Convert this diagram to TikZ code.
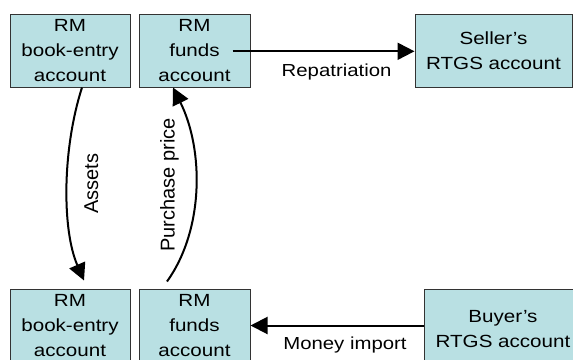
\documentclass[tikz,border=0pt]{standalone}
\usepackage{fontspec}
\setmainfont{Liberation Sans}
\newfontfamily\hfont{Liberation Sans}[FakeStretch=1.17]
\usetikzlibrary{arrows.meta}
\definecolor{boxfill}{RGB}{185,224,227}
\definecolor{boxline}{RGB}{51,51,51}
\begin{document}
\begin{tikzpicture}[x=1pt,y=-1pt,
  acct/.style={draw=boxline, line width=1pt, fill=boxfill, align=center, inner sep=0pt,
    minimum height=73pt, font=\hfont\fontsize{17.6}{25}\selectfont},
  arr/.style={line width=2pt, -{Triangle[length=17pt,width=17pt]}},
  lab/.style={font=\hfont\fontsize{17.4}{25}\selectfont, inner sep=0pt},
  vlab/.style={font=\fontsize{20}{24}\selectfont, rotate=90, inner sep=0pt}]
\useasboundingbox (0,0) rectangle (573,359);
\node[acct, minimum width=120pt] (A1) at (70,50.5) {RM\\book-entry\\account};
\node[acct, minimum width=111pt] (F1) at (194.5,50.5) {RM\\funds\\account};
\node[acct, minimum width=157pt] (S) at (493.5,50.5) {Seller’s\\RTGS account};
\node[acct, minimum width=120pt] (A2) at (70,325.5) {RM\\book-entry\\account};
\node[acct, minimum width=111pt] (F2) at (194.5,325.5) {RM\\funds\\account};
\node[acct, minimum width=158pt, minimum height=81pt] (B) at (503,329.5) {Buyer’s\\RTGS account};
\draw[arr] ([xshift=-18pt,yshift=-0.8pt]F1.east) -- node[lab, pos=0.572, yshift=-20.5pt] {Repatriation} ([yshift=-0.8pt]S.west);
\draw[arr] (B.west |- F2.east) -- node[lab, pos=0.454, yshift=-19.5pt] {Money import} (F2.east);
\draw[arr] ([xshift=12pt]A1.south) .. controls (62,150) and (62,230) .. node[xshift=24pt, yshift=4.6pt, vlab] {Assets} ([xshift=14pt,yshift=8pt]A2.north);
\draw[arr] ([xshift=-27.5pt,yshift=7pt]F2.north) .. controls (204,230) and (204,150) .. node[xshift=-26pt, yshift=3.8pt, vlab] {Purchase price} ([xshift=-21.5pt]F1.south);
\end{tikzpicture}
\end{document}
